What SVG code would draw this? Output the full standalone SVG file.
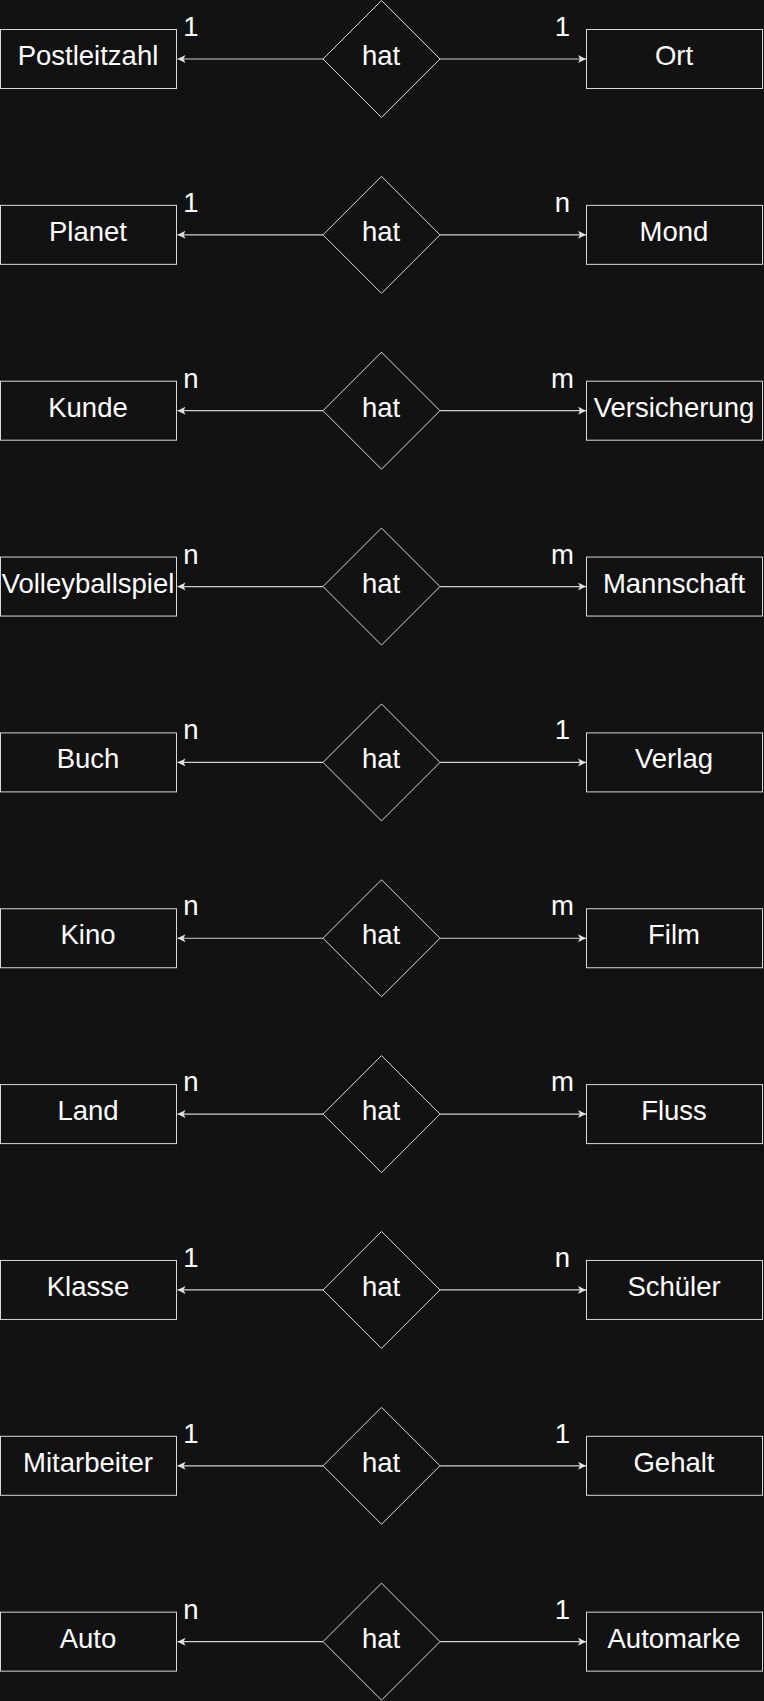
<svg xmlns="http://www.w3.org/2000/svg" width="764" height="1701" viewBox="0 0 764 1701">
<defs>
<style>
.bg{fill:#121212}
.ent{fill:#121212;stroke:#d8d8d8;stroke-width:1}
.rel{fill:#121212;stroke:#d8d8d8;stroke-width:1}
.t{fill:#ffffff;font-family:"Liberation Sans",Arial,Helvetica,sans-serif;font-size:27.5px;text-anchor:middle}
.c{stroke:#d0d0d0;stroke-width:1.2;fill:none;marker-end:url(#arr)}
</style>
<marker id="arr" markerUnits="userSpaceOnUse" markerWidth="10" markerHeight="10" refX="8" refY="4" orient="auto">
<path d="M0,0 L8,4 L0,8 L2,4 Z" fill="#e0e0e0"/>
</marker>
</defs>
<rect class="bg" x="0" y="0" width="764" height="1701"/>

<g id="connectors">
<line class="c" x1="323" y1="59" x2="177.5" y2="59"/><line class="c" x1="440" y1="59" x2="586" y2="59"/>
<line class="c" x1="323" y1="234.85" x2="177.5" y2="234.85"/><line class="c" x1="440" y1="234.85" x2="586" y2="234.85"/>
<line class="c" x1="323" y1="410.7" x2="177.5" y2="410.7"/><line class="c" x1="440" y1="410.7" x2="586" y2="410.7"/>
<line class="c" x1="323" y1="586.55" x2="177.5" y2="586.55"/><line class="c" x1="440" y1="586.55" x2="586" y2="586.55"/>
<line class="c" x1="323" y1="762.4" x2="177.5" y2="762.4"/><line class="c" x1="440" y1="762.4" x2="586" y2="762.4"/>
<line class="c" x1="323" y1="938.25" x2="177.5" y2="938.25"/><line class="c" x1="440" y1="938.25" x2="586" y2="938.25"/>
<line class="c" x1="323" y1="1114.1" x2="177.5" y2="1114.1"/><line class="c" x1="440" y1="1114.1" x2="586" y2="1114.1"/>
<line class="c" x1="323" y1="1289.95" x2="177.5" y2="1289.95"/><line class="c" x1="440" y1="1289.95" x2="586" y2="1289.95"/>
<line class="c" x1="323" y1="1465.8" x2="177.5" y2="1465.8"/><line class="c" x1="440" y1="1465.8" x2="586" y2="1465.8"/>
<line class="c" x1="323" y1="1641.65" x2="177.5" y2="1641.65"/><line class="c" x1="440" y1="1641.65" x2="586" y2="1641.65"/>
</g>

<g id="labels">
<text class="t" x="191" y="36">1</text><text class="t" x="562.5" y="36">1</text>
<text class="t" x="191" y="211.85">1</text><text class="t" x="562.5" y="211.85">n</text>
<text class="t" x="191" y="387.7">n</text><text class="t" x="562.5" y="387.7">m</text>
<text class="t" x="191" y="563.55">n</text><text class="t" x="562.5" y="563.55">m</text>
<text class="t" x="191" y="739.4">n</text><text class="t" x="562.5" y="739.4">1</text>
<text class="t" x="191" y="915.25">n</text><text class="t" x="562.5" y="915.25">m</text>
<text class="t" x="191" y="1091.1">n</text><text class="t" x="562.5" y="1091.1">m</text>
<text class="t" x="191" y="1266.95">1</text><text class="t" x="562.5" y="1266.95">n</text>
<text class="t" x="191" y="1442.8">1</text><text class="t" x="562.5" y="1442.8">1</text>
<text class="t" x="191" y="1618.65">n</text><text class="t" x="562.5" y="1618.65">1</text>
</g>

<g id="row1">
<g id="postleitzahl"><rect class="ent" x="0.5" y="29.5" width="176" height="59"/><text class="t" x="88" y="65">Postleitzahl</text></g>
<g id="hat1"><polygon class="rel" points="381.5,0.5 440,59 381.5,117.5 323,59"/><text class="t" x="381" y="65">hat</text></g>
<g id="ort"><rect class="ent" x="586.5" y="29.5" width="176" height="59"/><text class="t" x="674" y="65">Ort</text></g>
</g>

<g id="row2">
<g id="planet"><rect class="ent" x="0.5" y="205.35" width="176" height="59"/><text class="t" x="88" y="240.85">Planet</text></g>
<g id="hat2"><polygon class="rel" points="381.5,176.35 440,234.85 381.5,293.35 323,234.85"/><text class="t" x="381" y="240.85">hat</text></g>
<g id="mond"><rect class="ent" x="586.5" y="205.35" width="176" height="59"/><text class="t" x="674" y="240.85">Mond</text></g>
</g>

<g id="row3">
<g id="kunde"><rect class="ent" x="0.5" y="381.2" width="176" height="59"/><text class="t" x="88" y="416.7">Kunde</text></g>
<g id="hat3"><polygon class="rel" points="381.5,352.2 440,410.7 381.5,469.2 323,410.7"/><text class="t" x="381" y="416.7">hat</text></g>
<g id="versicherung"><rect class="ent" x="586.5" y="381.2" width="176" height="59"/><text class="t" x="674" y="416.7">Versicherung</text></g>
</g>

<g id="row4">
<g id="volleyballspiel"><rect class="ent" x="0.5" y="557.05" width="176" height="59"/><text class="t" x="88" y="592.55">Volleyballspiel</text></g>
<g id="hat4"><polygon class="rel" points="381.5,528.05 440,586.55 381.5,645.05 323,586.55"/><text class="t" x="381" y="592.55">hat</text></g>
<g id="mannschaft"><rect class="ent" x="586.5" y="557.05" width="176" height="59"/><text class="t" x="674" y="592.55">Mannschaft</text></g>
</g>

<g id="row5">
<g id="buch"><rect class="ent" x="0.5" y="732.9" width="176" height="59"/><text class="t" x="88" y="768.4">Buch</text></g>
<g id="hat5"><polygon class="rel" points="381.5,703.9 440,762.4 381.5,820.9 323,762.4"/><text class="t" x="381" y="768.4">hat</text></g>
<g id="verlag"><rect class="ent" x="586.5" y="732.9" width="176" height="59"/><text class="t" x="674" y="768.4">Verlag</text></g>
</g>

<g id="row6">
<g id="kino"><rect class="ent" x="0.5" y="908.75" width="176" height="59"/><text class="t" x="88" y="944.25">Kino</text></g>
<g id="hat6"><polygon class="rel" points="381.5,879.75 440,938.25 381.5,996.75 323,938.25"/><text class="t" x="381" y="944.25">hat</text></g>
<g id="film"><rect class="ent" x="586.5" y="908.75" width="176" height="59"/><text class="t" x="674" y="944.25">Film</text></g>
</g>

<g id="row7">
<g id="land"><rect class="ent" x="0.5" y="1084.6" width="176" height="59"/><text class="t" x="88" y="1120.1">Land</text></g>
<g id="hat7"><polygon class="rel" points="381.5,1055.6 440,1114.1 381.5,1172.6 323,1114.1"/><text class="t" x="381" y="1120.1">hat</text></g>
<g id="fluss"><rect class="ent" x="586.5" y="1084.6" width="176" height="59"/><text class="t" x="674" y="1120.1">Fluss</text></g>
</g>

<g id="row8">
<g id="klasse"><rect class="ent" x="0.5" y="1260.45" width="176" height="59"/><text class="t" x="88" y="1295.95">Klasse</text></g>
<g id="hat8"><polygon class="rel" points="381.5,1231.45 440,1289.95 381.5,1348.45 323,1289.95"/><text class="t" x="381" y="1295.95">hat</text></g>
<g id="schueler"><rect class="ent" x="586.5" y="1260.45" width="176" height="59"/><text class="t" x="674" y="1295.95">Schüler</text></g>
</g>

<g id="row9">
<g id="mitarbeiter"><rect class="ent" x="0.5" y="1436.3" width="176" height="59"/><text class="t" x="88" y="1471.8">Mitarbeiter</text></g>
<g id="hat9"><polygon class="rel" points="381.5,1407.3 440,1465.8 381.5,1524.3 323,1465.8"/><text class="t" x="381" y="1471.8">hat</text></g>
<g id="gehalt"><rect class="ent" x="586.5" y="1436.3" width="176" height="59"/><text class="t" x="674" y="1471.8">Gehalt</text></g>
</g>

<g id="row10">
<g id="auto"><rect class="ent" x="0.5" y="1612.15" width="176" height="59"/><text class="t" x="88" y="1647.65">Auto</text></g>
<g id="hat10"><polygon class="rel" points="381.5,1583.15 440,1641.65 381.5,1700.15 323,1641.65"/><text class="t" x="381" y="1647.65">hat</text></g>
<g id="automarke"><rect class="ent" x="586.5" y="1612.15" width="176" height="59"/><text class="t" x="674" y="1647.65">Automarke</text></g>
</g>
</svg>
